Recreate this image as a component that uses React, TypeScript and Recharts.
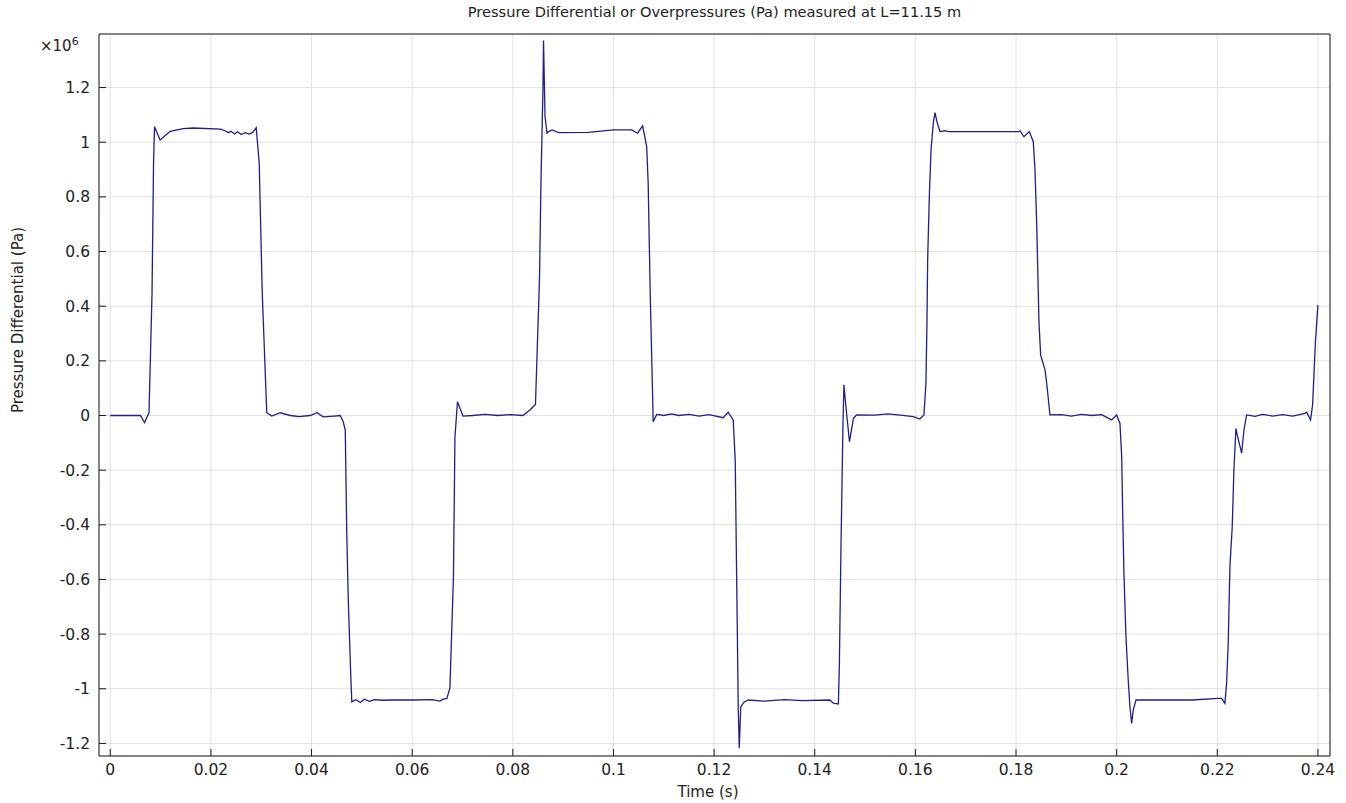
import { LineChart, Line, XAxis, YAxis, CartesianGrid } from "recharts";

// time (s)
const time = [
  0, 0.002, 0.004, 0.006, 0.0068, 0.0077, 0.0083, 0.0086, 0.0088, 0.0099,
  0.0119, 0.0145, 0.0165, 0.0219, 0.0228, 0.0235, 0.024, 0.0247, 0.0253, 0.026,
  0.0268, 0.0276, 0.0283, 0.029, 0.0296, 0.0302, 0.0311, 0.0321, 0.0338, 0.0358,
  0.0375, 0.0397, 0.0411, 0.0423, 0.0445, 0.0457, 0.0463, 0.0467, 0.047, 0.0473,
  0.0478, 0.048, 0.0488, 0.0497, 0.0505, 0.0515, 0.0525, 0.054, 0.056, 0.06,
  0.064, 0.0655, 0.0662, 0.0669, 0.0675, 0.0682, 0.0685, 0.069, 0.0701, 0.072,
  0.0745, 0.077, 0.0795, 0.082, 0.0834, 0.0845, 0.0853, 0.0856, 0.086, 0.0861,
  0.0864, 0.0868, 0.0872, 0.0878, 0.0891, 0.095, 0.1, 0.1036, 0.1048, 0.1058,
  0.1066, 0.1069, 0.1073, 0.1079, 0.1086, 0.11, 0.1115, 0.113, 0.115, 0.117,
  0.119, 0.1218, 0.1228, 0.1238, 0.1242, 0.1244, 0.1246, 0.1248, 0.125, 0.1253,
  0.126, 0.1268, 0.13, 0.134, 0.1375, 0.143, 0.1437, 0.1447, 0.1449, 0.1452,
  0.1456, 0.1458, 0.1462, 0.1469, 0.1477, 0.1483, 0.152, 0.1545, 0.157, 0.1596,
  0.1609, 0.1617, 0.1621, 0.1623, 0.16244, 0.16277, 0.16311, 0.16356, 0.1639, 0.16436,
  0.1649, 0.16589, 0.16654, 0.175, 0.18045, 0.18079, 0.18158, 0.18264, 0.18343, 0.18377,
  0.18411, 0.18457, 0.1849, 0.18576, 0.1861, 0.18675, 0.189, 0.191, 0.193, 0.195,
  0.197, 0.199, 0.2, 0.20066, 0.201, 0.2012, 0.20145, 0.20185, 0.2023, 0.20264,
  0.20298, 0.2033, 0.20384, 0.21, 0.215, 0.22019, 0.22086, 0.22152, 0.22185, 0.22217,
  0.22251, 0.22297, 0.2233, 0.2237, 0.22396, 0.22484, 0.2253, 0.22583, 0.2275, 0.229,
  0.231, 0.233, 0.235, 0.23741, 0.23775, 0.23854, 0.23894, 0.2395, 0.24,
];

// pressure differential, in units of 10^6 Pa
const pressure = [
  0, 0, 0, 0, -0.026, 0.01, 0.45, 0.924, 1.057, 1.008,
  1.04, 1.05, 1.052, 1.048, 1.042, 1.035, 1.04, 1.03, 1.038, 1.028,
  1.035, 1.03, 1.036, 1.053, 0.924, 0.45, 0.01, -0.002, 0.01, 0,
  -0.004, 0, 0.01, -0.005, -0.002, 0, -0.023, -0.053, -0.43, -0.675,
  -0.956, -1.048, -1.04, -1.05, -1.038, -1.046, -1.04, -1.042, -1.041, -1.041,
  -1.04, -1.045, -1.038, -1.035, -0.997, -0.59, -0.078, 0.05, -0.002, 0,
  0.004, 0, 0.003, 0, 0.02, 0.04, 0.5, 0.862, 1.203, 1.372,
  1.094, 1.033, 1.04, 1.045, 1.035, 1.036, 1.045, 1.045, 1.033, 1.06,
  0.984, 0.85, 0.45, -0.023, 0.004, 0, 0.006, 0, 0.004, -0.002,
  0.003, -0.008, 0.012, -0.016, -0.163, -0.468, -0.767, -1.07, -1.218, -1.066,
  -1.048, -1.041, -1.045, -1.04, -1.043, -1.041, -1.053, -1.056, -0.907, -0.5,
  -0.041, 0.112, 0.032, -0.096, -0.01, 0.002, 0.001, 0.006, 0.001, -0.004,
  -0.013, 0.002, 0.118, 0.337, 0.569, 0.8, 0.972, 1.07, 1.108, 1.07,
  1.039, 1.042, 1.039, 1.039, 1.039, 1.042, 1.02, 1.039, 1.002, 0.899,
  0.703, 0.337, 0.221, 0.167, 0.118, 0.002, 0.003, -0.002, 0.004, 0,
  0.003, -0.016, 0.002, -0.029, -0.15, -0.358, -0.578, -0.81, -0.968, -1.066,
  -1.127, -1.078, -1.041, -1.041, -1.041, -1.035, -1.035, -1.053, -0.98, -0.834,
  -0.553, -0.407, -0.2, -0.047, -0.071, -0.138, -0.053, 0.002, -0.003, 0.004,
  -0.002, 0.003, -0.002, 0.008, 0.012, -0.016, 0.038, 0.27, 0.404,
];

const xTicks = [0, 0.02, 0.04, 0.06, 0.08, 0.1, 0.12, 0.14, 0.16, 0.18, 0.2, 0.22, 0.24];
const yTicks = [-1.2, -1, -0.8, -0.6, -0.4, -0.2, 0, 0.2, 0.4, 0.6, 0.8, 1, 1.2];
const xDomain: [number, number] = [-0.00224, 0.2424];
const yDomain: [number, number] = [-1.246, 1.396];

const data = time.map((t, i) => ({ t, p: pressure[i] }));

const fmt = (v: number) => String(Number(v.toFixed(2)));

const tickStyle = { fontSize: 15.5, fill: "#222", fontFamily: "DejaVu Sans" };
const axisColor = "#1a1a1a";

export default function App() {
  return (
    <div
      style={{
        position: "absolute",
        left: 0,
        top: 0,
        width: 1346,
        height: 803,
        background: "#fff",
        fontFamily: "DejaVu Sans",
        color: "#222",
      }}
    >
      <LineChart width={1346} height={803} data={data} margin={{ top: 33, right: 15, bottom: 0, left: 0 }}>
        <CartesianGrid stroke="#e2e2e2" strokeWidth={1} />
        <XAxis
          dataKey="t"
          type="number"
          domain={xDomain}
          allowDataOverflow
          ticks={xTicks}
          tickFormatter={fmt}
          height={47}
          tickSize={-7}
          tickMargin={15}
          stroke={axisColor}
          tick={tickStyle}
        />
        {/* mirrored top / right axes: frame plus inward ticks, no labels */}
        <XAxis
          xAxisId="top"
          dataKey="t"
          orientation="top"
          type="number"
          domain={xDomain}
          allowDataOverflow
          ticks={xTicks}
          height={1}
          tickSize={-7}
          tick={false}
          stroke={axisColor}
        />
        <YAxis
          type="number"
          domain={yDomain}
          allowDataOverflow
          ticks={yTicks}
          tickFormatter={fmt}
          width={99}
          tickSize={-7}
          tickMargin={16}
          stroke={axisColor}
          tick={tickStyle}
        />
        <YAxis
          yAxisId="right"
          orientation="right"
          type="number"
          domain={yDomain}
          allowDataOverflow
          ticks={yTicks}
          width={1}
          tickSize={-7}
          tick={false}
          stroke={axisColor}
        />
        <Line
          xAxisId="top"
          yAxisId="right"
          dataKey="p"
          stroke="none"
          dot={false}
          activeDot={false}
          isAnimationActive={false}
        />
        <Line
          dataKey="p"
          type="linear"
          stroke="#1f1f8c"
          strokeWidth={1.3}
          dot={false}
          isAnimationActive={false}
        />
      </LineChart>

      <div
        style={{
          position: "absolute",
          left: 0,
          width: 1429,
          top: 3,
          textAlign: "center",
          fontSize: 14.6,
        }}
      >
        Pressure Differential or Overpressures (Pa) measured at L=11.15 m
      </div>
      <div style={{ position: "absolute", left: 40, top: 35, fontSize: 15 }}>
        ×10<sup style={{ fontSize: 11, verticalAlign: 6 }}>6</sup>
      </div>
      <div
        style={{
          position: "absolute",
          left: 18,
          top: 320,
          fontSize: 15,
          whiteSpace: "nowrap",
          transform: "translate(-50%, -50%) rotate(-90deg)",
        }}
      >
        Pressure Differential (Pa)
      </div>
      <div
        style={{
          position: "absolute",
          left: 708,
          top: 792,
          fontSize: 15,
          whiteSpace: "nowrap",
          transform: "translate(-50%, -50%)",
        }}
      >
        Time (s)
      </div>
    </div>
  );
}
